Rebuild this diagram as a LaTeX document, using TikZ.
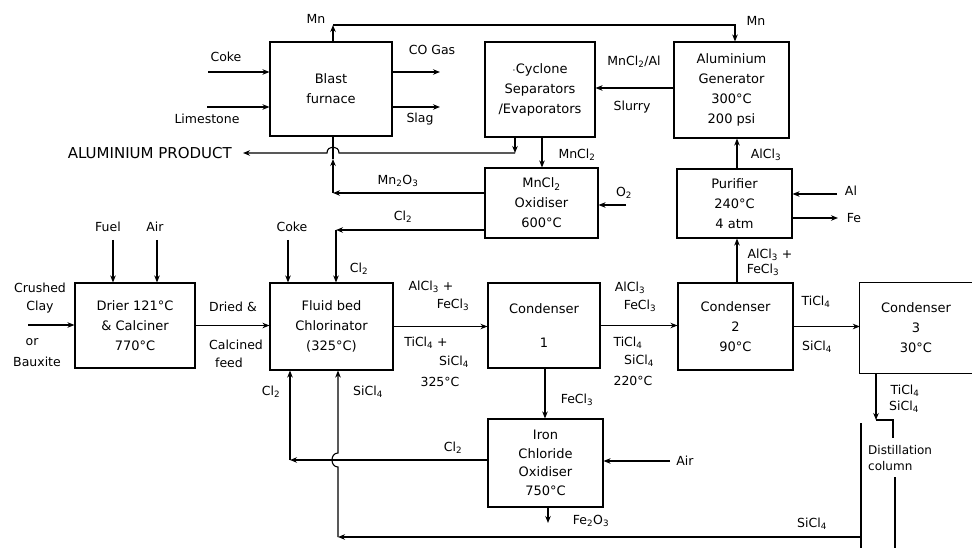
\documentclass[tikz,border=0pt]{standalone}
\usepackage{fontspec}
\setmainfont{DejaVu Sans}
\usetikzlibrary{arrows.meta,calc}
\newcommand{\subx}[1]{\textsubscript{#1}}
\begin{document}
\begin{tikzpicture}[x=1pt,y=-1pt,
  box/.style={draw, line width=1.1pt, inner sep=0pt, align=center, font=\fontsize{13}{20}\selectfont},
  lbl/.style={inner sep=1pt, align=center, font=\fontsize{12.5}{14}\selectfont},
  arr/.style={line width=1.1pt, -{Stealth[length=7pt,width=5.5pt]}},
  ln/.style={line width=1.1pt}]
\useasboundingbox (0,0) rectangle (972,548);
\fill[white] (0,0) rectangle (972,548);

% ---------- boxes ----------
\node[box, minimum width=122pt, minimum height=94pt] (bf) at (331,89) {Blast\\furnace};
\node[box, minimum width=110pt, minimum height=95pt] (cyc) at (540,89.5) {$\cdot$Cyclone\\Separators\\/Evaporators};
\node[box, minimum width=115pt, minimum height=96pt] (gen) at (731.5,90) {Aluminium\\Generator\\300°C\\200 psi};
\node[box, minimum width=113pt, minimum height=70pt] (mox) at (541.5,203) {MnCl\subx{2}\\Oxidiser\\600°C};
\node[box, minimum width=115pt, minimum height=69pt] (pur) at (734.5,203.5) {Purifier\\240°C\\4 atm};
\node[box, minimum width=120pt, minimum height=85pt] (dry) at (135,325.5) {Drier 121°C\\\& Calciner\\770°C};
\node[box, minimum width=123pt, minimum height=87pt] (chl) at (331.5,326.5) {Fluid bed\\Chlorinator\\(325°C)};
\node[box, minimum width=112pt, minimum height=85pt] (c1) at (544,325.5) {Condenser\\[14pt]1};
\node[box, minimum width=115pt, minimum height=87pt] (c2) at (735.5,326.5) {Condenser\\2\\90°C};
\node[inner sep=0pt, align=center, font=\fontsize{13}{20}\selectfont, minimum width=112pt, minimum height=90pt] (c3) at (916,328) {Condenser\\3\\30°C};
\draw[ln] (c3.north east) -- (c3.north west) -- (c3.south west) -- (c3.south east);
\node[box, minimum width=115pt, minimum height=88pt, font=\fontsize{13}{18.5}\selectfont] (ico) at (545.5,463) {Iron\\Chloride\\Oxidiser\\750°C};
\node[lbl, anchor=west, align=left, font=\fontsize{12}{16}\selectfont] (dist) at (867,458) {Distillation\\column};

% ---------- named free ends ----------
\coordinate (mnL) at (333,25);
\coordinate (mnR) at (735,25);
\coordinate (cokeS) at (208,72);
\coordinate (limeS) at (207,107);
\coordinate (coE) at (440,72);
\coordinate (slagE) at (440,107);
\coordinate (slur) at (674,88);
\coordinate (apx) at (515,153);
\coordinate (apL) at (243,153);
\coordinate (hopR) at (339,153);
\coordinate (hopL) at (327,153);
\coordinate (mnox) at (333,193);
\coordinate (mnoxa) at (333,159);
\coordinate (mcx) at (542,150);
\coordinate (o2s) at (626,205);
\coordinate (cl2c) at (336,230);
\coordinate (coke2) at (288,240);
\coordinate (fuel) at (113,240);
\coordinate (air1) at (157,240);
\coordinate (cr) at (28,325);
\coordinate (ax) at (737,250);
\coordinate (alS) at (837,194);
\coordinate (feE) at (838,218);
\coordinate (dtop) at (876,420);
\coordinate (fx) at (545,400);
\coordinate (fe2) at (548,523);
\coordinate (airS) at (670,461);
\coordinate (clb) at (290,460);
\coordinate (sib) at (338,537);
\coordinate (sir) at (861,537);
\coordinate (sihopB) at (338,467);
\coordinate (sihopT) at (338,453);

% ---------- top section ----------
\draw[arr] (bf.north -| mnL) -- (mnL);
\draw[arr] (mnL) -- (mnR) -- (gen.north -| mnR);
\node[lbl] (lmn1) at (316,19) {Mn};
\node[lbl] (lmn2) at (756,21) {Mn};

\draw[arr] (cokeS) -- (bf.west |- cokeS);
\node[lbl] (lcoke1) at (226,57) {Coke};
\draw[arr] (limeS) -- (bf.west |- limeS);
\node[lbl] (llime) at (207,119) {Limestone};

\draw[arr] (bf.east |- coE) -- (coE);
\node[lbl] (lco) at (432,50) {CO Gas};
\draw[arr] (bf.east |- slagE) -- (slagE);
\node[lbl] (lslag) at (420,119) {Slag};

\draw[arr] (slur) -- (cyc.east |- slur);
\node[lbl] (lslur1) at (634,62) {MnCl\subx{2}/Al};
\node[lbl] (lslur2) at (632,107) {Slurry};

\draw[arr] (cyc.south -| apx) -- (apx);
\draw[arr] (apx) -- (hopR) .. controls (339,145) and (327,145) .. (hopL) -- (apL);
\node[lbl, anchor=east, font=\fontsize{15}{16}\selectfont] (lap) at (233,153) {ALUMINIUM PRODUCT};

\draw[arr] (mox.west |- mnox) -- (mnox);
\draw[arr] (mnox) -- (mnoxa);
\draw[ln] (mnoxa) -- (bf.south -| mnox);
\node[lbl] (lmno) at (398,181) {Mn\subx{2}O\subx{3}};

\draw[arr] (cyc.south -| mcx) -- (mox.north -| mcx);
\node[lbl] (lmcl) at (577,155) {MnCl\subx{2}};

\draw[arr] (o2s) -- (mox.east |- o2s);
\node[lbl] (lo2) at (624,193) {O\subx{2}};

\draw[arr] (mox.west |- cl2c) -- (cl2c);
\draw[arr] (cl2c) -- (chl.north -| cl2c);
\node[lbl] (lcl1) at (403,217) {Cl\subx{2}};
\node[lbl] (lcl2) at (359,269) {Cl\subx{2}};

% ---------- middle row ----------
\draw[arr] (coke2) -- (chl.north -| coke2);
\node[lbl] (lcoke2) at (292,227) {Coke};
\draw[arr] (fuel) -- (dry.north -| fuel);
\node[lbl] (lfuel) at (108,227) {Fuel};
\draw[arr] (air1) -- (dry.north -| air1);
\node[lbl] (lair1) at (155,227) {Air};

\draw[arr] (cr) -- (dry.west |- cr);
\node[lbl] (lcr1) at (40,288) {Crushed};
\node[lbl] (lcr2) at (40,307) {Clay};
\node[lbl] (lcr3) at (32,342) {or};
\node[lbl] (lcr4) at (37,362) {Bauxite};

\draw[arr] (dry.east) -- (chl.west |- dry.east);
\node[lbl] (ldf1) at (233,307) {Dried \&};
\node[lbl] (ldf2) at (236,345) {Calcined};
\node[lbl] (ldf3) at (229,363) {feed};

\draw[arr] (chl.east) -- (c1.west |- chl.east);
\node[lbl] (la1) at (431,287) {AlCl\subx{3} +};
\node[lbl] (la2) at (453,305) {FeCl\subx{3}};
\node[lbl] (la3) at (426,343) {TiCl\subx{4} +};
\node[lbl] (la4) at (454,362) {SiCl\subx{4}};
\node[lbl] (la5) at (440,382) {325°C};

\draw[arr] (c1.east) -- (c2.west |- c1.east);
\node[lbl] (lb1) at (630,288) {AlCl\subx{3}};
\node[lbl] (lb2) at (640,306) {FeCl\subx{3}};
\node[lbl] (lb3) at (628,343) {TiCl\subx{4}};
\node[lbl] (lb4) at (639,361) {SiCl\subx{4}};
\node[lbl] (lb5) at (633,381) {220°C};

\draw[arr] (c2.north -| ax) -- (pur.south -| ax);
\node[lbl] (lp1) at (770,255) {AlCl\subx{3} +};
\node[lbl] (lp2) at (763,270) {FeCl\subx{3}};
\draw[arr] (pur.north -| ax) -- (gen.south -| ax);
\node[lbl] (lp3) at (766,155) {AlCl\subx{3}};

\draw[arr] (alS) -- (pur.east |- alS);
\node[lbl] (lal) at (851,191) {Al};
\draw[arr] (pur.east |- feE) -- (feE);
\node[lbl] (lfe) at (854,218) {Fe};

\draw[arr] (c2.east) -- (c3.west |- c2.east);
\node[lbl] (lc1) at (816,302) {TiCl\subx{4}};
\node[lbl] (lc2) at (817,347) {SiCl\subx{4}};

% ---------- distillation column ----------
\draw[arr] (c3.south -| dtop) -- (dtop);
\draw[ln] (dtop) -- ++(17,0) -- ++(0,18);
\draw[ln] (sir |- dtop) ++(0,3) -- (sir) -- ++(0,11);
\draw[ln] (895,477) -- (895,548);
\node[lbl] (ld1) at (905,391) {TiCl\subx{4}};
\node[lbl] (ld2) at (904,407) {SiCl\subx{4}};

% ---------- bottom section ----------
\draw[arr] (c1.south -| fx) -- (ico.north -| fx);
\node[lbl] (lfc) at (577,400) {FeCl\subx{3}};
\draw[arr] (ico.south -| fe2) -- (fe2);
\node[lbl] (lfeo) at (591,521) {Fe\subx{2}O\subx{3}};
\draw[arr] (airS) -- (ico.east |- airS);
\node[lbl] (lair2) at (685,461) {Air};

\draw[arr] (ico.west |- clb) -- (clb);
\draw[arr] (clb) -- (chl.south -| clb);
\node[lbl] (lcl3) at (453,448) {Cl\subx{2}};
\node[lbl] (lcl4) at (271,392) {Cl\subx{2}};

\draw[arr] (sir) -- (sib);
\draw[arr] (sib) -- (sihopB) .. controls (330,467) and (330,453) .. (sihopT) -- (chl.south -| sib);
\node[lbl] (lsi1) at (368,392) {SiCl\subx{4}};
\node[lbl] (lsi2) at (812,524) {SiCl\subx{4}};
\end{tikzpicture}
\end{document}
